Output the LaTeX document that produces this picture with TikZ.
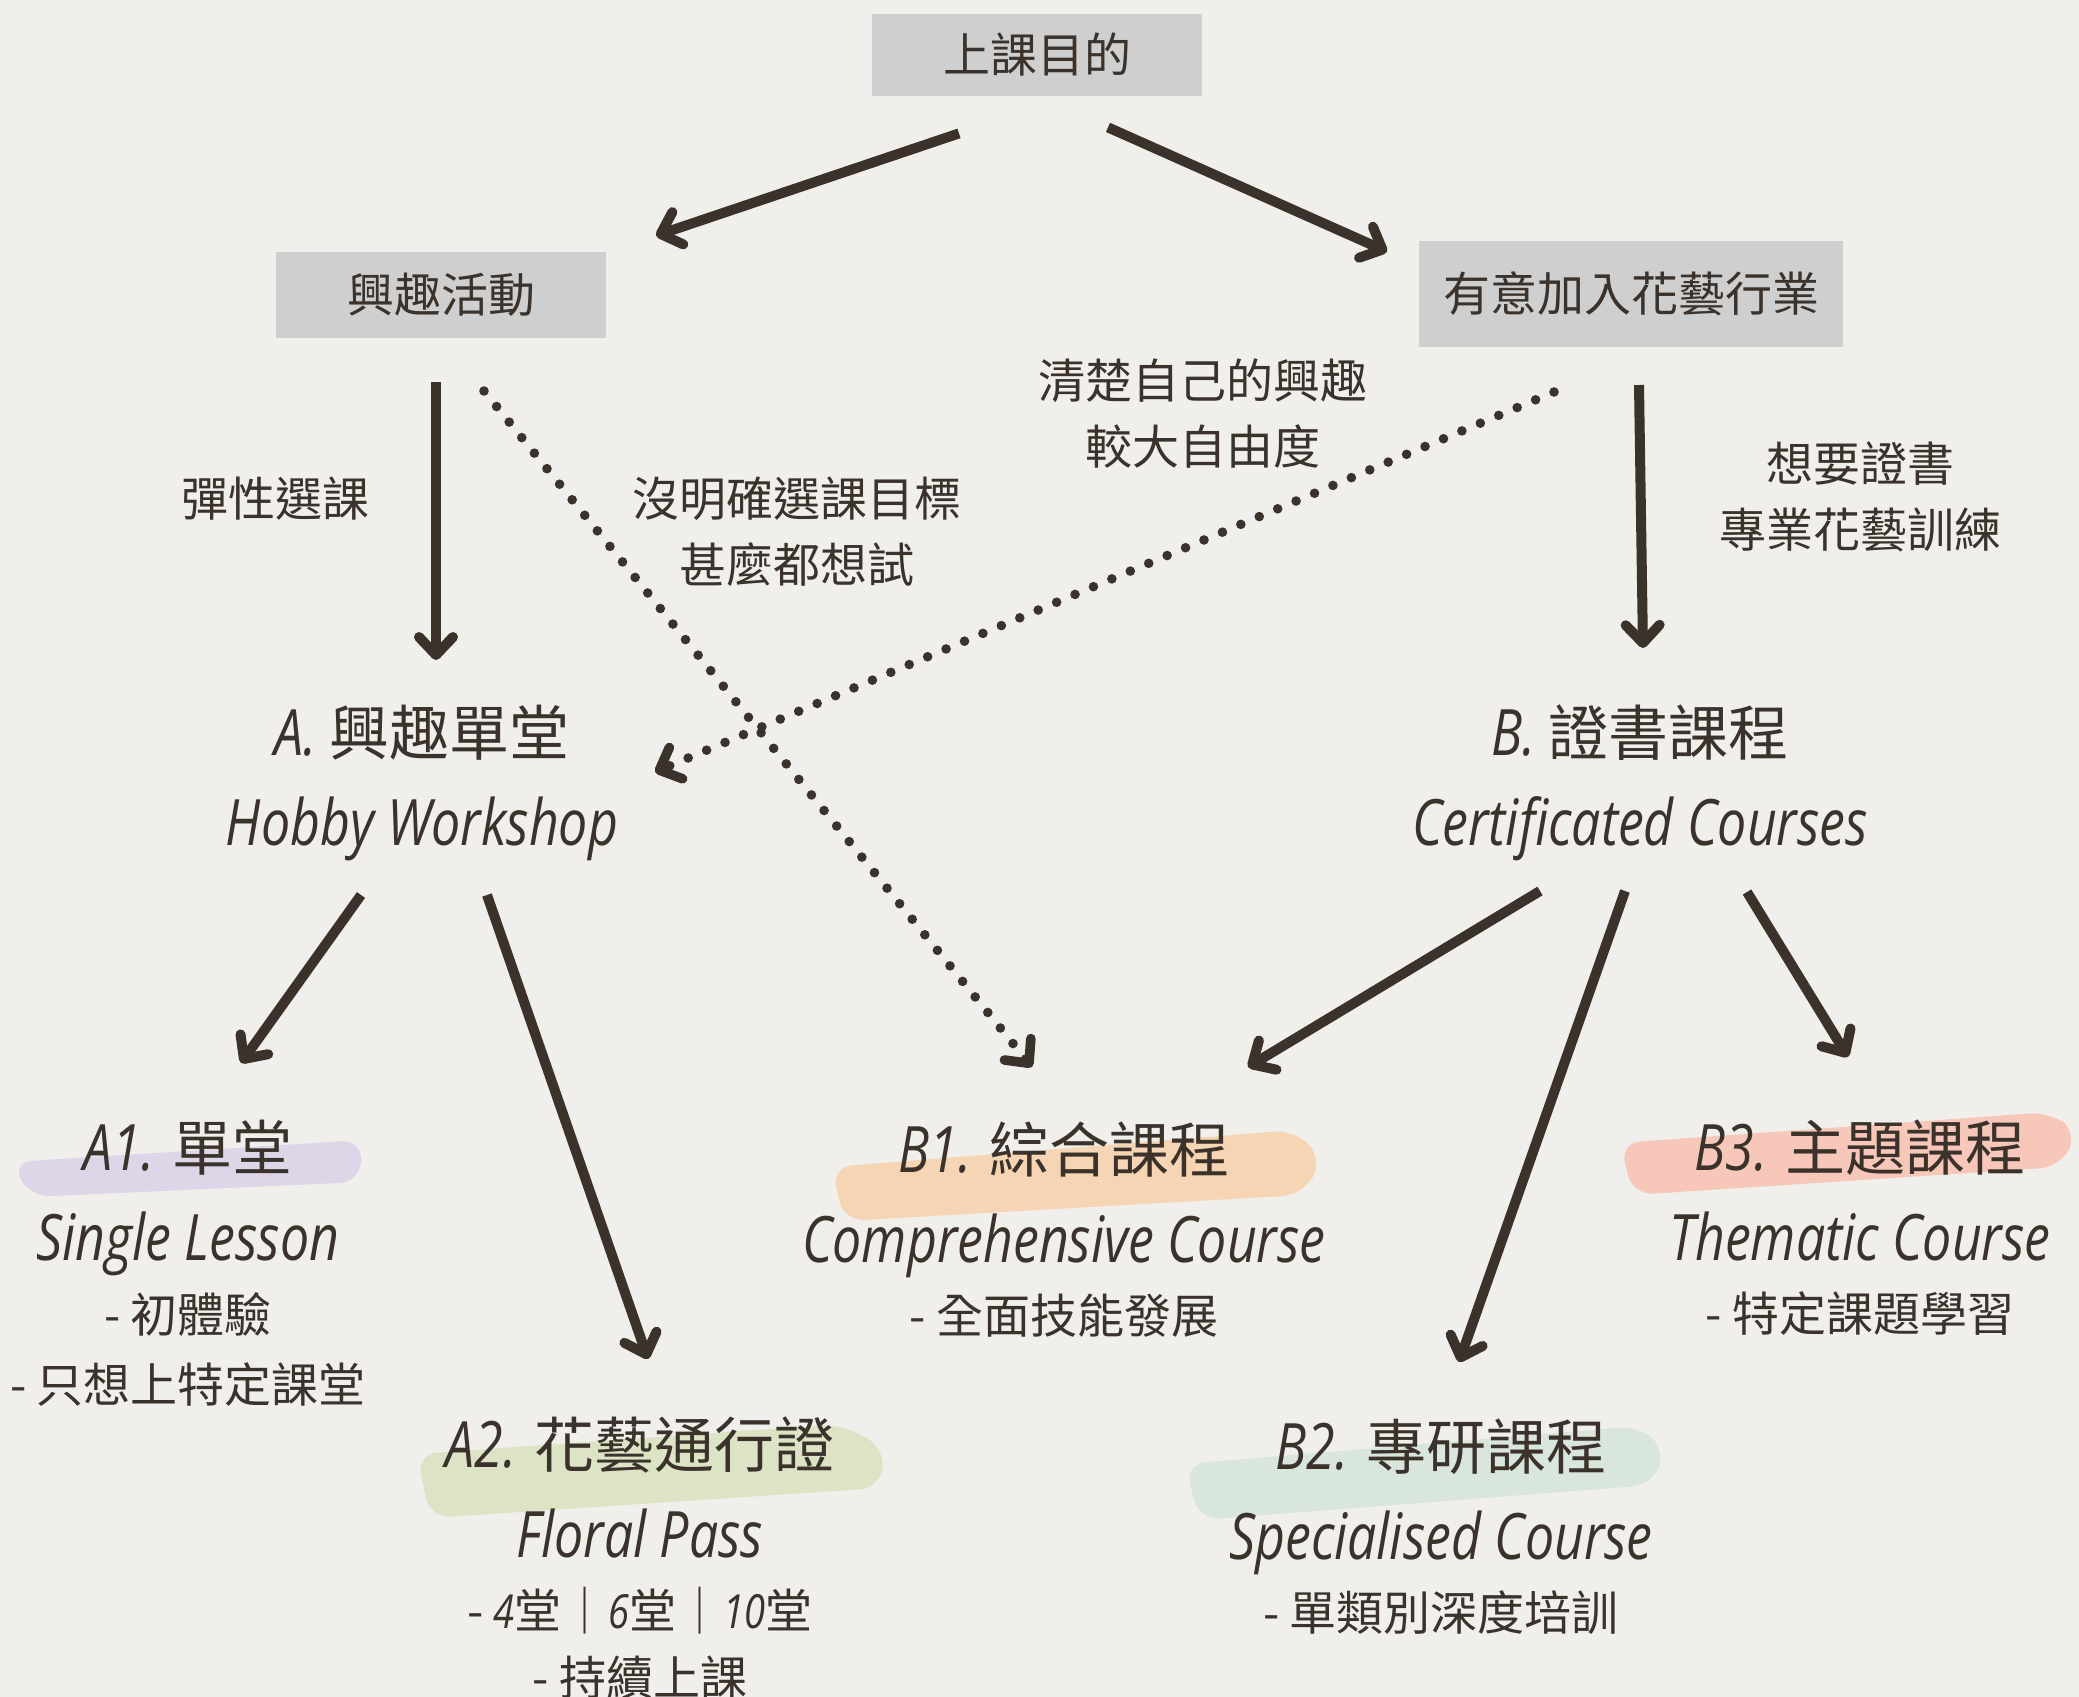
\documentclass[tikz,border=0pt]{standalone}
\usepackage{fontspec}
\setmainfont{Noto Sans CJK TC}
\newfontfamily\latinfont[FakeStretch=0.81]{Open Sans}
\usetikzlibrary{arrows.meta}
\usetikzlibrary{positioning}
\usetikzlibrary{calc}
\definecolor{ink}{HTML}{3A322B}
\definecolor{paper}{HTML}{F0EFEB}
\definecolor{tagGray}{HTML}{CFCFCF}
\definecolor{lilac}{HTML}{DDD5E8}
\definecolor{sage}{HTML}{DDE4C5}
\definecolor{peach}{HTML}{F5D5B3}
\definecolor{blush}{HTML}{F7C8B9}
\definecolor{mint}{HTML}{D9E6DD}
\newcommand{\entxt}[1]{{\latinfont\itshape #1}}
\newcommand{\tlabel}[2]{{\latinfont\itshape\fontsize{32pt}{36pt}\selectfont #1} #2}
\tikzstyle{flow}=[-{Straight Barb[round,length=9pt,width=17pt]},line width=5pt,color=ink]
\tikzstyle{hint}=[-{Straight Barb[round,length=9pt,width=17pt]},line width=4.8pt,color=ink,line cap=round,dash pattern=on 0pt off 10pt]

\begin{document}
\begin{tikzpicture}[x=0.5pt,y=-0.5pt]
    % pixel grid of the reference, y going down
    \tikzstyle{tag}=[fill=tagGray,text=ink,font=\fontsize{23.5pt}{28pt}\selectfont,inner sep=0pt]
    \tikzstyle{note}=[text=ink,align=center,font=\fontsize{23.5pt}{33pt}\selectfont]
    \tikzstyle{title}=[text=ink,font=\fontsize{30pt}{36pt}\selectfont,inner sep=0pt]
    \tikzstyle{eng}=[text=ink,anchor=base,font=\latinfont\itshape\fontsize{32pt}{36pt}\selectfont,inner sep=0pt]
    \tikzstyle{desc}=[text=ink,font=\fontsize{23.5pt}{28pt}\selectfont,inner sep=0pt]

    \fill[paper] (0,0) rectangle (2079,1697);
    \useasboundingbox (0,0) rectangle (2079,1697);

    % brush strokes behind the course titles
    \fill[lilac,rounded corners=10pt] (12,1162) -- (362,1140) -- (360,1182) -- (30,1197) -- cycle;
    \fill[sage,rounded corners=10pt] (417,1454) -- (840,1424) -- (885,1448) -- (880,1488) -- (430,1518) -- cycle;
    \fill[peach,rounded corners=10pt] (832,1167) -- (1295,1130) -- (1323,1160) -- (1302,1195) -- (844,1221) -- cycle;
    \fill[blush,rounded corners=10pt] (1620,1143) -- (2050,1112) -- (2078,1133) -- (2060,1167) -- (1633,1195) -- cycle;
    \fill[mint,rounded corners=10pt] (1185,1464) -- (1639,1426) -- (1666,1450) -- (1652,1485) -- (1199,1520) -- cycle;

    % purpose and the two motives
    \node[tag,minimum width=165pt,minimum height=41pt] (purpose) at (1037,55) {上課目的};
    \node[tag,minimum width=165pt,minimum height=43pt] (hobbyTag) at (441,295) {興趣活動};
    \node[tag,minimum width=212pt,minimum height=53pt] (careerTag) at (1631,294) {有意加入花藝行業};

    % reasons along the arrows
    \node[note] (flexNote) at (275,499) {彈性選課};
    \node[note] (openNote) at (797,532) {沒明確選課目標\\甚麼都想試};
    \node[note] (freeNote) at (1203,414) {清楚自己的興趣\\較大自由度};
    \node[note] (certNote) at (1860,497) {想要證書\\專業花藝訓練};

    % the two routes
    \node[title] (hobbyA) at (422,733) {\tlabel{A.}{興趣單堂}};
    \node[eng] (hobbyAen) at ($(hobbyA)+(0,112)$) {Hobby Workshop};
    \node[title] (certB) at (1640,733) {\tlabel{B.}{證書課程}};
    \node[eng] (certBen) at ($(certB)+(0,112)$) {Certificated Courses};

    % courses
    \node[title] (singleT) at (188,1148) {\tlabel{A1.}{單堂}};
    \node[eng] (singleEn) at ($(singleT)+(0,112)$) {Single Lesson};
    \node[desc] (singleD1) at ($(singleT)+(0,166)$) {- 初體驗};
    \node[desc] (singleD2) at ($(singleD1)+(0,71)$) {- 只想上特定課堂};

    \node[title] (passT) at (640,1445) {\tlabel{A2.}{花藝通行證}};
    \node[eng] (passEn) at ($(passT)+(0,112)$) {Floral Pass};
    \node[desc] (passD1) at ($(passT)+(0,166)$) {- \entxt{4}堂｜\entxt{6}堂｜\entxt{10}堂};
    \node[desc] (passD2) at ($(passD1)+(0,67)$) {- 持續上課};

    \node[title] (compT) at (1064,1150) {\tlabel{B1.}{綜合課程}};
    \node[eng] (compEn) at ($(compT)+(0,112)$) {Comprehensive Course};
    \node[desc] (compD) at ($(compT)+(0,166)$) {- 全面技能發展};

    \node[title] (specT) at (1441,1447) {\tlabel{B2.}{專研課程}};
    \node[eng] (specEn) at ($(specT)+(0,112)$) {Specialised Course};
    \node[desc] (specD) at ($(specT)+(0,166)$) {- 單類別深度培訓};

    \node[title] (themeT) at (1860,1148) {\tlabel{B3.}{主題課程}};
    \node[eng] (themeEn) at ($(themeT)+(0,112)$) {Thematic Course};
    \node[desc] (themeD) at ($(themeT)+(0,166)$) {- 特定課題學習};

    % arrows
    \draw[flow] ([shift={(-78,37)}]purpose.south) -- ([shift={(215,-16)}]hobbyTag.north);
    \draw[flow] ([shift={(71,31)}]purpose.south) -- ([shift={(-244,11)}]careerTag.north);
    \draw[flow] ([shift={(-5,87)}]hobbyTag.center) -- ([shift={(14,-73)}]hobbyA.center);
    \draw[flow] ([shift={(8,91)}]careerTag.center) -- ([shift={(3,-85)}]certB.center);
    \draw[hint] ([shift={(43,96)}]hobbyTag.center) -- ([shift={(-32,-83)}]compT.center);
    \draw[hint] ([shift={(-77,98)}]careerTag.center) -- ([shift={(233,39)}]hobbyA.center);
    \draw[flow] ([shift={(-61,50)}]hobbyAen.base) -- ([shift={(53,-85)}]singleT.center);
    \draw[flow] ([shift={(65,50)}]hobbyAen.base) -- ([shift={(8,-86)}]passT.center);
    \draw[flow] ([shift={(-100,46)}]certBen.base) -- ([shift={(184,-83)}]compT.center);
    \draw[flow] ([shift={(-15,46)}]certBen.base) -- ([shift={(18,-85)}]specT.center);
    \draw[flow] ([shift={(107,47)}]certBen.base) -- ([shift={(-12,-91)}]themeT.center);
\end{tikzpicture}
\end{document}
